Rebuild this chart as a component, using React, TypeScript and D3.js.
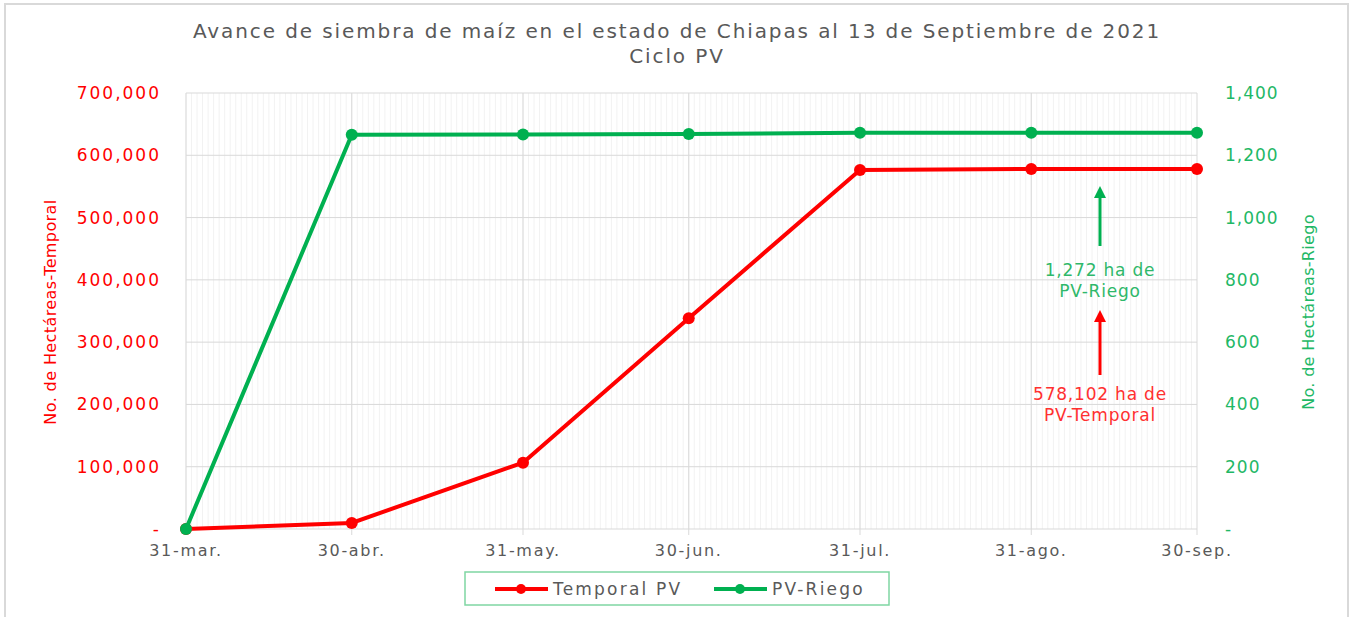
import { useEffect, useRef } from "react";
import * as d3 from "d3";

const fechas = ["2021-03-31", "2021-04-30", "2021-05-31", "2021-06-30", "2021-07-31", "2021-08-31", "2021-09-30"];
const etiquetasX = ["31-mar.", "30-abr.", "31-may.", "30-jun.", "31-jul.", "31-ago.", "30-sep."];
const temporal = [0, 9800, 106500, 338500, 576500, 578000, 578102];
const riego = [0, 1266, 1267, 1268, 1272, 1272, 1272];
const ticksIzq = [0, 100000, 200000, 300000, 400000, 500000, 600000, 700000];
const ticksDer = [0, 200, 400, 600, 800, 1000, 1200, 1400];

const W = 1353;
const H = 617;
const FONT = "'DejaVu Sans', sans-serif";
const ROJO = "#ff0000";
const VERDE = "#00b050";

export default function App() {
    const ref = useRef<SVGSVGElement>(null);

    useEffect(() => {
        const svg = d3.select(ref.current);
        svg.selectAll("*").remove();

        const m = { left: 186, right: 1197, top: 93, bottom: 529 };
        const parse = d3.timeParse("%Y-%m-%d");
        const dates = fechas.map(d => parse(d) as Date);

        const x = d3.scaleTime().domain([dates[0], dates[dates.length - 1]]).range([m.left, m.right]);
        const yL = d3.scaleLinear().domain([0, 700000]).range([m.bottom, m.top]);
        const yR = d3.scaleLinear().domain([0, 1400]).range([m.bottom, m.top]);

        // marco
        svg.append("rect")
            .attr("x", 5).attr("y", 4).attr("width", W - 10).attr("height", H + 10)
            .attr("fill", "#fff").attr("stroke", "#d9d9d9").attr("stroke-width", 2);

        // titulo
        const t = svg.append("text").attr("text-anchor", "middle").attr("fill", "#595959")
            .style("font-family", FONT).style("font-size", "20px").style("letter-spacing", "1.9px");
        t.append("tspan").attr("x", 677).attr("y", 38).text("Avance de siembra de maíz en el estado de Chiapas al 13 de Septiembre de 2021");
        t.append("tspan").attr("x", 677).attr("y", 63).text("Ciclo PV");

        // grid menor por dia
        const dias = d3.timeDay.range(dates[0], dates[dates.length - 1]);
        svg.append("g").selectAll("line").data(dias).join("line")
            .attr("x1", d => x(d)).attr("x2", d => x(d))
            .attr("y1", m.top).attr("y2", m.bottom)
            .attr("stroke", "#f2f2f2").attr("stroke-width", 1);

        // grid mayor
        svg.append("g").selectAll("line").data(ticksIzq).join("line")
            .attr("x1", m.left).attr("x2", m.right)
            .attr("y1", d => yL(d)).attr("y2", d => yL(d))
            .attr("stroke", "#d9d9d9").attr("stroke-width", 1);
        svg.append("g").selectAll("line").data(dates).join("line")
            .attr("x1", d => x(d)).attr("x2", d => x(d))
            .attr("y1", m.top).attr("y2", m.bottom + 6)
            .attr("stroke", "#d9d9d9").attr("stroke-width", 1);

        // eje x etiquetas
        svg.append("g").selectAll("text").data(dates).join("text")
            .attr("x", d => x(d)).attr("y", 556)
            .attr("text-anchor", "middle").attr("fill", "#595959")
            .style("font-family", FONT).style("font-size", "16px").style("letter-spacing", "1.7px")
            .text((d, i) => etiquetasX[i]);

        const fmt = (v: number) => v === 0 ? "-" : d3.format(",")(v);

        svg.append("g").selectAll("text").data(ticksIzq).join("text")
            .attr("x", 161).attr("y", d => yL(d) + 6)
            .attr("text-anchor", "end").attr("fill", ROJO)
            .style("font-family", FONT).style("font-size", "17px").style("letter-spacing", "2px")
            .text(d => fmt(d));

        svg.append("g").selectAll("text").data(ticksDer).join("text")
            .attr("x", 1225).attr("y", d => yR(d) + 6)
            .attr("text-anchor", "start").attr("fill", "#1fb866")
            .style("font-family", FONT).style("font-size", "17px").style("letter-spacing", "1px")
            .text(d => fmt(d));

        // titulos de ejes
        svg.append("text").attr("transform", `translate(56,312) rotate(-90)`)
            .attr("text-anchor", "middle").attr("fill", ROJO)
            .style("font-family", FONT).style("font-size", "16px").style("letter-spacing", "0.4px")
            .text("No. de Hectáreas-Temporal");
        svg.append("text").attr("transform", `translate(1314,312) rotate(-90)`)
            .attr("text-anchor", "middle").attr("fill", "#1fb866")
            .style("font-family", FONT).style("font-size", "16px").style("letter-spacing", "0.3px")
            .text("No. de Hectáreas-Riego");

        // series
        const series = [
            { vals: temporal, y: yL, color: ROJO },
            { vals: riego, y: yR, color: VERDE },
        ];
        series.forEach(s => {
            const line = d3.line<number>().x((d, i) => x(dates[i])).y(d => s.y(d));
            svg.append("path").datum(s.vals)
                .attr("fill", "none").attr("stroke", s.color).attr("stroke-width", 4)
                .attr("d", line);
            svg.append("g").selectAll("circle").data(s.vals).join("circle")
                .attr("cx", (d, i) => x(dates[i])).attr("cy", d => s.y(d))
                .attr("r", 6).attr("fill", s.color);
        });

        // anotaciones
        const defs = svg.append("defs");
        [["flechaV", VERDE], ["flechaR", ROJO]].forEach(([id, c]) => {
            defs.append("marker").attr("id", id).attr("viewBox", "0 0 10 10")
                .attr("refX", 5).attr("refY", 5).attr("markerWidth", 4).attr("markerHeight", 4)
                .attr("orient", "auto")
                .append("path").attr("d", "M0,0 L10,5 L0,10 Z").attr("fill", c);
        });
        const ax = 1100;
        svg.append("line").attr("x1", ax).attr("x2", ax).attr("y1", 246).attr("y2", 192)
            .attr("stroke", VERDE).attr("stroke-width", 3).attr("marker-end", "url(#flechaV)");
        svg.append("line").attr("x1", ax).attr("x2", ax).attr("y1", 375).attr("y2", 316)
            .attr("stroke", ROJO).attr("stroke-width", 3).attr("marker-end", "url(#flechaR)");

        const nota = (lineas: string[], y0: number, c: string) => {
            const tt = svg.append("text").attr("text-anchor", "middle").attr("fill", c)
                .style("font-family", FONT).style("font-size", "17px").style("letter-spacing", "0.8px");
            lineas.forEach((l, i) => tt.append("tspan").attr("x", ax).attr("y", y0 + i * 21).text(l));
        };
        nota(["1,272 ha de", "PV-Riego"], 276, "#2fb86a");
        nota(["578,102 ha de", "PV-Temporal"], 400, "#ff3030");

        // leyenda
        svg.append("rect").attr("x", 465).attr("y", 572).attr("width", 424).attr("height", 33)
            .attr("fill", "#fff").attr("stroke", "#7fd6a3").attr("stroke-width", 1.5);
        const ley = [
            { nombre: "Temporal PV", color: ROJO, x0: 495 },
            { nombre: "PV-Riego", color: VERDE, x0: 714 },
        ];
        ley.forEach(l => {
            svg.append("line").attr("x1", l.x0).attr("x2", l.x0 + 53).attr("y1", 589).attr("y2", 589)
                .attr("stroke", l.color).attr("stroke-width", 4);
            svg.append("circle").attr("cx", l.x0 + 26).attr("cy", 589).attr("r", 5).attr("fill", l.color);
            svg.append("text").attr("x", l.x0 + 58).attr("y", 595).attr("fill", "#595959")
                .style("font-family", FONT).style("font-size", "17px").style("letter-spacing", "2.2px")
                .text(l.nombre);
        });
    }, []);

    return (
        <div style={{ position: "absolute", left: 0, top: 0 }}>
            <svg ref={ref} width={W} height={H} style={{ display: "block" }}></svg>
        </div>
    );
}
